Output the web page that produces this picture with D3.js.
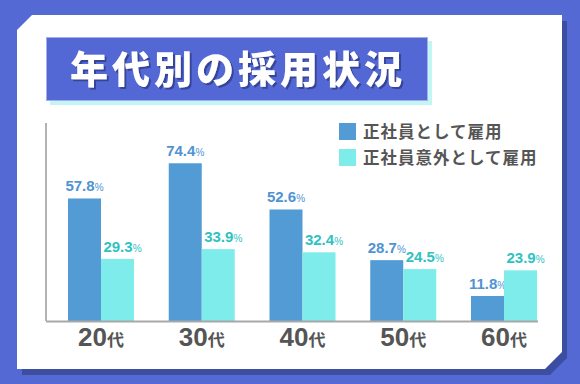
<!DOCTYPE html>
<html>
<head>
<meta charset="utf-8">
<script src="https://cdn.jsdelivr.net/npm/d3@7"></script>
<style>
  html, body { margin: 0; padding: 0; background: #5569d5; }
  svg { display: block; }
</style>
</head>
<body>
<script>
// data
const ages = ["20", "30", "40", "50", "60"];
const seriesNames = ["正社員として雇用", "正社員意外として雇用"];
const regular = [57.8, 74.4, 52.6, 28.7, 11.8];
const nonRegular = [29.3, 33.9, 32.4, 24.5, 23.9];
const title = "年代別の採用状況";

const W = 580, H = 384;
const jp = "'Noto Sans CJK JP', 'Noto Sans', sans-serif";
const num = "'Liberation Sans', Arial, sans-serif";
const colors = ["#529bd5", "#7eeceb"];
const labelColors = ["#4f93d3", "#2ec3c2"];

const svg = d3.select("body").append("svg")
  .attr("width", W).attr("height", H);

const defs = svg.append("defs");
defs.append("filter").attr("id", "tshadow")
  .attr("x", "-10%").attr("y", "-20%").attr("width", "130%").attr("height", "150%")
  .append("feDropShadow").attr("dx", 2).attr("dy", 2).attr("stdDeviation", 0.4)
  .attr("flood-color", "#34449a").attr("flood-opacity", 1);

svg.append("rect").attr("width", W).attr("height", H).attr("fill", "#5569d5");

// card + shadow
const card = [[17,30],[32,15],[562,15],[562,352],[545,369],[17,369]];
svg.append("polygon")
  .attr("points", card.map(p => (p[0]+5) + "," + (p[1]+6)).join(" "))
  .attr("fill", "#3c4ea0");
svg.append("polygon")
  .attr("points", card.map(p => p.join(",")).join(" "))
  .attr("fill", "#ffffff");

// title box
svg.append("rect").attr("x", 50).attr("y", 41).attr("width", 382).attr("height", 64)
  .attr("fill", "#c2f5f4");
svg.append("rect").attr("x", 46.5).attr("y", 37.5).attr("width", 381).attr("height", 63)
  .attr("fill", "#5368d5").attr("stroke", "#a4aeea").attr("stroke-width", 1);
svg.append("text").attr("x", 238).attr("y", 83).attr("text-anchor", "middle")
  .attr("font-family", jp).attr("font-weight", 900)
  .attr("font-size", 38).attr("letter-spacing", 4)
  .attr("fill", "#ffffff").attr("filter", "url(#tshadow)").text(title);

// scales
const x = d3.scaleBand().domain(ages).range([50.6, 554.4])
  .paddingInner(0.345).paddingOuter(0.1725);
const xs = d3.scaleBand().domain([0, 1]).range([0, x.bandwidth()]);
const y = d3.scaleLinear().domain([0, 100]).range([321, 109]);

// axes lines
svg.append("line").attr("x1", 46).attr("x2", 46).attr("y1", 123).attr("y2", 321)
  .attr("stroke", "#666").attr("stroke-width", 1);

const series = [regular, nonRegular];
series.forEach((vals, s) => {
  const g = svg.append("g");
  g.selectAll("rect").data(vals).enter().append("rect")
    .attr("x", (d, i) => x(ages[i]) + xs(s))
    .attr("y", d => y(d))
    .attr("width", xs.bandwidth())
    .attr("height", d => y(0) - y(d))
    .attr("fill", colors[s]);
  const t = g.selectAll("text").data(vals).enter().append("text")
    .attr("x", (d, i) => x(ages[i]) + xs(s) + xs.bandwidth() / 2 + (s === 1 ? 5 : 0))
    .attr("y", d => y(d) - 7)
    .attr("text-anchor", "middle")
    .attr("font-family", num)
    .attr("fill", labelColors[s]);
  t.append("tspan").attr("font-size", 15).attr("font-weight", 700).text(d => d.toFixed(1));
  t.append("tspan").attr("font-size", 10).attr("font-weight", 400).text("%");
});

svg.append("line").attr("x1", 46).attr("x2", 538).attr("y1", 321.5).attr("y2", 321.5)
  .attr("stroke", "#a8a8a8").attr("stroke-width", 2);

// x labels
const xl = svg.append("g").selectAll("text").data(ages).enter().append("text")
  .attr("x", d => x(d) + x.bandwidth() / 2)
  .attr("y", 346)
  .attr("text-anchor", "middle")
  .attr("fill", "#555")
  .attr("font-weight", 700);
xl.append("tspan").attr("font-family", num).attr("font-size", 26).text(d => d);
xl.append("tspan").attr("font-family", jp).attr("font-size", 17).text("代");

// legend
const lg = svg.append("g").selectAll("g").data(seriesNames).enter().append("g")
  .attr("transform", (d, i) => "translate(339," + (123 + i * 26) + ")");
lg.append("rect").attr("width", 17).attr("height", 17).attr("fill", (d, i) => colors[i]);
lg.append("text").attr("x", 24).attr("y", 15)
  .attr("font-family", jp).attr("font-weight", 700).attr("font-size", 16.5)
  .attr("letter-spacing", 1).attr("fill", "#555").text(d => d);
</script>
</body>
</html>
